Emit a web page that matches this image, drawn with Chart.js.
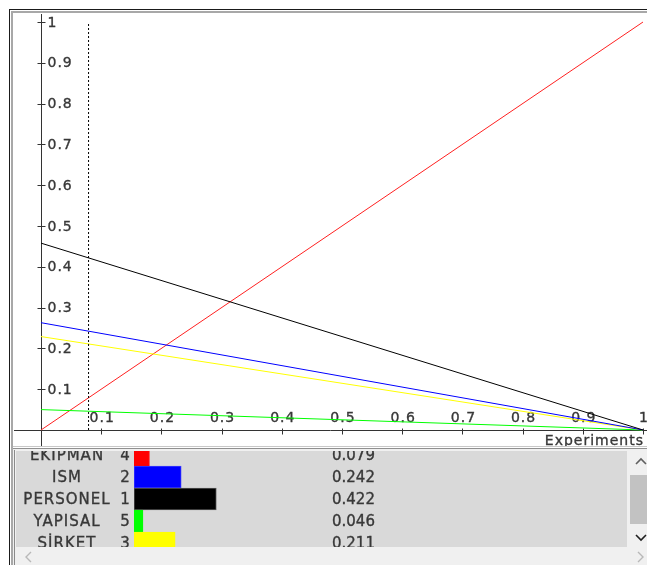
<!DOCTYPE html>
<html>
<head>
<meta charset="utf-8">
<script src="https://cdn.jsdelivr.net/npm/chart.js@4.4.0/dist/chart.umd.min.js"></script>
<style>
  html, body { margin: 0; padding: 0; background: #ffffff; }
  body { width: 647px; height: 565px; position: relative; overflow: hidden; font-family: "DejaVu Sans", sans-serif; }
  .abs { position: absolute; }
</style>
</head>
<body>
<!-- frame -->
<div class="abs" style="left:9px;top:9px;width:638px;height:1px;background:#1a1a1a;"></div>
<div class="abs" style="left:9px;top:9px;width:1px;height:556px;background:#1a1a1a;"></div>
<div class="abs" style="left:11px;top:11px;width:636px;height:2px;background:#a8a8a8;"></div>
<div class="abs" style="left:11px;top:11px;width:2px;height:554px;background:#a8a8a8;"></div>
<!-- top chart -->
<div class="abs" style="left:14px;top:14px;width:633px;height:432px;">
  <canvas id="top" width="633" height="432"></canvas>
</div>
<!-- separator -->
<div class="abs" style="left:13px;top:446px;width:634px;height:1px;background:#c8c8c8;"></div>
<div class="abs" style="left:13px;top:448px;width:634px;height:1px;background:#909090;"></div>
<!-- list panel -->
<div class="abs" style="left:13px;top:449px;width:634px;height:116px;background:#f0f0f0;"></div>
<div class="abs" style="left:14px;top:450px;width:1px;height:115px;background:#8a8a8a;"></div>
<div class="abs" id="clip" style="left:16px;top:451px;width:611px;height:96px;overflow:hidden;background:#d9d9d9;">
  <canvas id="list" width="611" height="110" style="position:absolute;left:0;top:-7px;"></canvas>
</div>
<!-- vertical scrollbar -->
<div class="abs" style="left:630px;top:451px;width:17px;height:97px;background:#f0f0f0;"></div>
<div class="abs" style="left:630px;top:475px;width:17px;height:49px;background:#c2c2c2;"></div>
<svg class="abs" style="left:630px;top:451px;" width="17" height="97">
  <polyline points="6,13 11,8 16,13" fill="none" stroke="#606060" stroke-width="1.6"/>
  <polyline points="6,84 11,89 16,84" fill="none" stroke="#202020" stroke-width="1.6"/>
</svg>
<!-- horizontal scrollbar -->
<svg class="abs" style="left:16px;top:548px;" width="631" height="17">
  <polyline points="15,4 10,9 15,14" fill="none" stroke="#b8b8b8" stroke-width="1.4"/>
  <polyline points="622,4 627,9 622,14" fill="none" stroke="#b8b8b8" stroke-width="1.4"/>
</svg>
<script>
// ---- data ----
const xRange   = [0, 1];
const personel = [0.458, 0];
const ism      = [0.263, 0];
const sirket   = [0.229, 0];
const yapisal  = [0.050, 0];
const ekipman  = [0, 1];
const currentX = 0.079;
const currentRange = [0, 1];
const yTickValues = [0.1, 0.2, 0.3, 0.4, 0.5, 0.6, 0.7, 0.8, 0.9, 1];
const yTickLabels = ['0.1', '0.2', '0.3', '0.4', '0.5', '0.6', '0.7', '0.8', '0.9', '1'];
const xTickValues = [0.1, 0.2, 0.3, 0.4, 0.5, 0.6, 0.7, 0.8, 0.9, 1];
const xTickLabels = ['0.1', '0.2', '0.3', '0.4', '0.5', '0.6', '0.7', '0.8', '0.9', '1'];
const xAxisTitle = 'Experiments';

const names      = ['EKİPMAN', 'ISM', 'PERSONEL', 'YAPISAL', 'SİRKET'];
const ranks      = ['4', '2', '1', '5', '3'];
const priorities = [0.079, 0.242, 0.422, 0.046, 0.211];
const priorityLabels = ['0.079', '0.242', '0.422', '0.046', '0.211'];
const barColors  = ['#ff0000', '#0000ff', '#000000', '#00ff00', '#ffff00'];
const barBorders = ['#ff0000', '#3a3aff', '#555555', '#00ff00', '#ffff00'];

const TEXT = '#383838';

function pts(xs, ys) { return xs.map((x, i) => ({ x: x, y: ys[i] })); }

function heavyText(ctx, s, x, y) {
  ctx.fillText(s, x, y);
  ctx.strokeText(s, x, y);
}

// ---- top chart ----
const axesPlugin = {
  id: 'axesPlugin',
  beforeDatasetsDraw(chart) {
    const { ctx, width, height } = chart;
    const xs = chart.scales.x, ys = chart.scales.y;
    const x0 = Math.round(xs.getPixelForValue(0)) + 0.5;
    const y0 = Math.round(ys.getPixelForValue(0)) + 0.5;
    ctx.save();
    ctx.strokeStyle = '#333333';
    ctx.lineWidth = 1;
    ctx.beginPath();
    ctx.moveTo(x0, 0); ctx.lineTo(x0, height);
    ctx.moveTo(0, y0); ctx.lineTo(width, y0);
    yTickValues.forEach(v => {
      const p = Math.round(ys.getPixelForValue(v)) + 0.5;
      ctx.moveTo(x0 - 4, p); ctx.lineTo(x0 + 4, p);
    });
    xTickValues.forEach(v => {
      const p = Math.round(xs.getPixelForValue(v)) + 0.5;
      ctx.moveTo(p, y0 - 2); ctx.lineTo(p, y0 + 4);
    });
    ctx.stroke();
    ctx.fillStyle = TEXT;
    ctx.strokeStyle = TEXT;
    ctx.lineWidth = 0.35;
    ctx.font = '14px "DejaVu Sans"';
    ctx.letterSpacing = '1px';
    ctx.textBaseline = 'middle';
    ctx.textAlign = 'left';
    yTickValues.forEach((v, i) => heavyText(ctx, yTickLabels[i], x0 + 6, ys.getPixelForValue(v) + 1));
    ctx.textAlign = 'center';
    xTickValues.forEach((v, i) => heavyText(ctx, xTickLabels[i], xs.getPixelForValue(v) + 1, y0 - 12));
    ctx.textAlign = 'right';
    heavyText(ctx, xAxisTitle, width - 3, y0 + 11);
    ctx.restore();
  }
};

function lineDs(label, ys, color) {
  return { label, data: pts(xRange, ys), borderColor: color, borderWidth: 1, pointRadius: 0, fill: false, tension: 0, clip: 3 };
}

new Chart(document.getElementById('top'), {
  type: 'line',
  data: {
    datasets: [
      { label: 'current', data: pts([currentX, currentX], currentRange), borderColor: '#000000', borderWidth: 1, borderDash: [2, 2], pointRadius: 0, fill: false, clip: 3 },
      lineDs('PERSONEL', personel, '#000000'),
      lineDs('ISM', ism, '#0000ff'),
      lineDs('SİRKET', sirket, '#ffff00'),
      lineDs('YAPISAL', yapisal, '#00ff00'),
      lineDs('EKİPMAN', ekipman, '#ff2020')
    ]
  },
  options: {
    responsive: false,
    animation: false,
    layout: { padding: { left: 27, right: 4, top: 8, bottom: 16 } },
    plugins: { legend: { display: false }, tooltip: { enabled: false } },
    scales: {
      x: { type: 'linear', min: 0, max: 1, display: false },
      y: { type: 'linear', min: 0, max: 1, display: false }
    }
  },
  plugins: [axesPlugin]
});

// ---- bottom list chart ----
const listPlugin = {
  id: 'listPlugin',
  afterDatasetsDraw(chart) {
    const { ctx } = chart;
    const ys = chart.scales.y;
    ctx.save();
    ctx.fillStyle = TEXT;
    ctx.strokeStyle = TEXT;
    ctx.lineWidth = 0.35;
    ctx.textBaseline = 'middle';
    names.forEach((n, i) => {
      const p = ys.getPixelForValue(i) + 1;
      ctx.font = '15px "DejaVu Sans"';
      ctx.letterSpacing = '1px';
      ctx.textAlign = 'center';
      heavyText(ctx, n, 51, p);
      ctx.letterSpacing = '0px';
      heavyText(ctx, ranks[i], 109, p);
      ctx.textAlign = 'left';
      heavyText(ctx, priorityLabels[i], 316, p);
    });
    ctx.restore();
  }
};

new Chart(document.getElementById('list'), {
  type: 'bar',
  data: {
    labels: names,
    datasets: [{
      data: priorities,
      backgroundColor: barColors,
      borderColor: barBorders,
      borderWidth: 1,
      categoryPercentage: 1,
      barPercentage: 1,
      borderSkipped: false
    }]
  },
  options: {
    indexAxis: 'y',
    responsive: false,
    animation: false,
    layout: { padding: { left: 118, right: 298, top: 0, bottom: 0 } },
    plugins: { legend: { display: false }, tooltip: { enabled: false } },
    scales: {
      x: { type: 'linear', min: 0, max: 1, display: false },
      y: { type: 'category', display: false }
    }
  },
  plugins: [listPlugin]
});
</script>
</body>
</html>
